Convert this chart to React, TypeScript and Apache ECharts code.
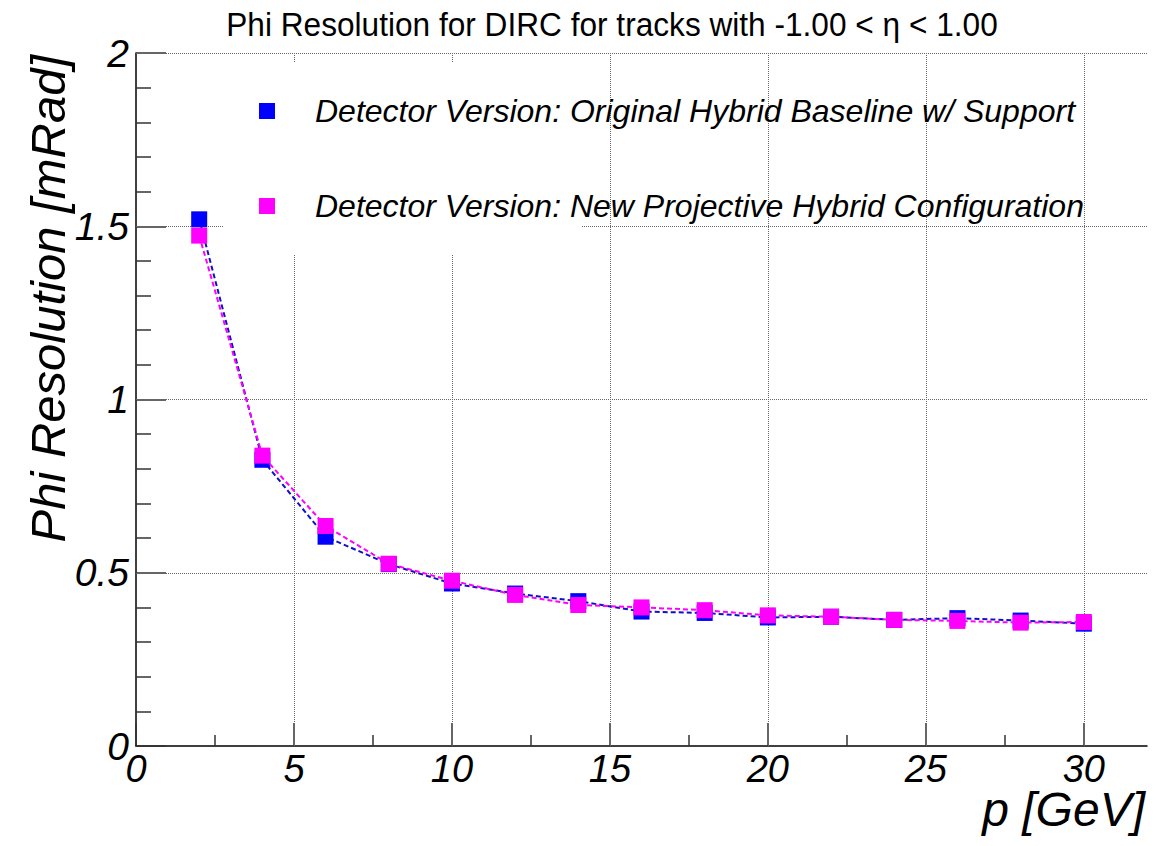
import React, { useEffect, useRef } from "react";
import * as echarts from "echarts";

const pValues = [2, 4, 6, 8, 10, 12, 14, 16, 18, 20, 22, 24, 26, 28, 30];
const baselineRes = [1.52, 0.826, 0.604, 0.525, 0.469, 0.44, 0.418, 0.388, 0.384, 0.371, 0.373, 0.364, 0.369, 0.362, 0.353];
const projectiveRes = [1.473, 0.838, 0.635, 0.526, 0.477, 0.436, 0.407, 0.4, 0.392, 0.377, 0.373, 0.364, 0.361, 0.356, 0.358];

const seriesNames = [
  "Detector Version: Original Hybrid Baseline w/ Support",
  "Detector Version: New Projective Hybrid Configuration",
];
const xMajorTicks = [0, 5, 10, 15, 20, 25, 30];
const xMinorTicks = [2.5, 7.5, 12.5, 17.5, 22.5, 27.5];
const xGrid = [5, 10, 15, 20, 25, 30];
const yGrid = [0.5, 1, 1.5, 2];

const chartTitle = "Phi Resolution for DIRC for tracks with -1.00 < \u03b7 < 1.00";
const xTitle = "p [GeV]";
const yTitle = "Phi Resolution [mRad]";

const FONT = "Liberation Sans, Arial, Helvetica, sans-serif";

export default function App() {
  const ref = useRef<HTMLDivElement>(null);
  useEffect(() => {
    if (!ref.current) return;
    const chart = echarts.init(ref.current, null, { renderer: "svg" });
    const tickStyle = { color: "#333", width: 1.5 };
    const option: any = {
      animation: false,
      backgroundColor: "#fff",
      grid: { left: 136, right: 24, top: 53, bottom: 100, containLabel: false, outerBoundsMode: "none" },
      legend: {
        orient: "vertical",
        left: 254,
        top: 90,
        z: 100,
        zlevel: 0,
        itemWidth: 16,
        itemHeight: 16,
        itemGap: 63,
        icon: "rect",
        selectedMode: false,
        data: seriesNames,
        textStyle: {
          fontSize: 32,
          fontStyle: "italic",
          fontFamily: FONT,
          color: "#000",
          padding: [0, 0, 0, 35],
        },
      },
      xAxis: [
        {
          type: "value",
          min: 0,
          max: 32,
          interval: 5,
          position: "bottom",
          axisLine: { show: true, onZero: false, lineStyle: { color: "#000", width: 1.5 } },
          axisTick: { show: true, inside: true, length: 23, customValues: xMajorTicks, lineStyle: tickStyle },
          axisLabel: {
            customValues: xMajorTicks,
            fontSize: 38,
            fontStyle: "italic",
            fontFamily: FONT,
            color: "#000",
            margin: 4,
          },
          splitLine: { show: false },
        },
        {
          type: "value",
          min: 0,
          max: 32,
          interval: 5,
          position: "bottom",
          axisLine: { show: false, onZero: false },
          axisTick: { show: true, inside: true, length: 11, customValues: xMinorTicks, lineStyle: tickStyle },
          axisLabel: { show: false },
          splitLine: { show: false },
        },
      ],
      yAxis: {
        type: "value",
        min: 0,
        max: 2,
        interval: 0.5,
        axisLine: { show: true, onZero: false, lineStyle: { color: "#000", width: 1.5 } },
        axisTick: { show: true, inside: true, length: 30, lineStyle: tickStyle },
        minorTick: { show: true, splitNumber: 5, length: 15, lineStyle: tickStyle },
        axisLabel: {
          fontSize: 39,
          fontStyle: "italic",
          fontFamily: FONT,
          color: "#000",
          margin: 7,
          formatter: (v: number) => String(v),
        },
        splitLine: { show: false },
      },
      graphic: {
        z: 50,
        elements: [
          {
            type: "rect",
            z: 50,
            shape: { x: 223, y: 63, width: 359, height: 192 },
            style: { fill: "#fff" },
            silent: true,
          },
          {
            type: "text",
            z: 60,
            x: 612,
            y: 24,
            scaleX: 0.93,
            style: {
              text: chartTitle,
              fontSize: 34,
              fontFamily: FONT,
              fill: "#000",
              align: "center",
              verticalAlign: "middle",
            },
          },
          {
            type: "text",
            z: 60,
            x: 1145,
            y: 809,
            style: {
              text: xTitle,
              fontSize: 48,
              fontStyle: "italic",
              fontFamily: FONT,
              fill: "#000",
              align: "right",
              verticalAlign: "middle",
            },
          },
          {
            type: "text",
            z: 60,
            x: 48,
            y: 55,
            rotation: Math.PI / 2,
            style: {
              text: yTitle,
              fontSize: 49,
              fontStyle: "italic",
              fontFamily: FONT,
              fill: "#000",
              align: "right",
              verticalAlign: "middle",
            },
          },
        ],
      },
      series: [
        {
          name: "grid",
          type: "line",
          data: [],
          z: 1,
          zlevel: 0,
          silent: true,
          symbol: "none",
          markLine: {
            silent: true,
            z: 1,
            symbol: ["none", "none"],
            label: { show: false },
            lineStyle: { type: "dotted", color: "#666", width: 1 },
            data: [...xGrid.map((v) => ({ xAxis: v })), ...yGrid.map((v) => ({ yAxis: v }))],
          },
        },
        {
          name: seriesNames[0],
          type: "line",
          xAxisIndex: 0,
          z: 4,
          data: pValues.map((p, i) => [p, baselineRes[i]]),
          symbol: "rect",
          symbolSize: 16,
          showAllSymbol: true,
          itemStyle: { color: "#0000ff" },
          lineStyle: { color: "#1010c8", width: 2, type: [5, 3] },
        },
        {
          name: seriesNames[1],
          type: "line",
          xAxisIndex: 0,
          z: 5,
          data: pValues.map((p, i) => [p, projectiveRes[i]]),
          symbol: "rect",
          symbolSize: 16,
          showAllSymbol: true,
          itemStyle: { color: "#ff00ff" },
          lineStyle: { color: "#ff00ff", width: 2, type: [5, 3] },
        },
      ],
    };
    chart.setOption(option);
    return () => chart.dispose();
  }, []);
  return (
    <div
      ref={ref}
      style={{ position: "fixed", left: 0, top: 0, width: 1171, height: 846, background: "#fff" }}
    />
  );
}
